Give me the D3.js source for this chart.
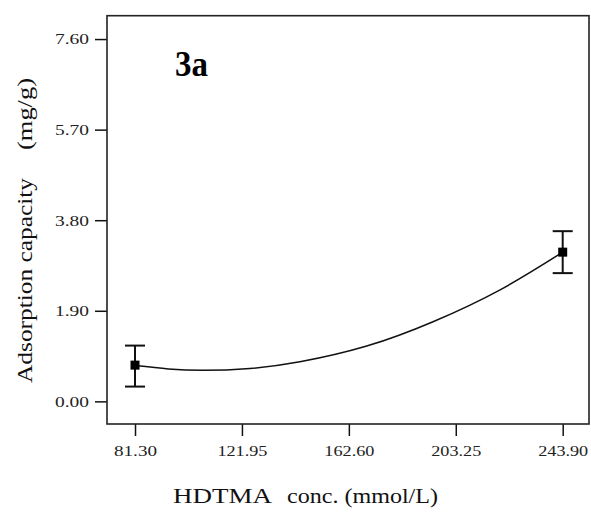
<!DOCTYPE html>
<html><head><meta charset="utf-8">
<script src="https://cdn.jsdelivr.net/npm/d3@7"></script>
<style>html,body{margin:0;padding:0;background:#fff;}svg{display:block;}</style>
</head><body>
<svg id="c" width="591" height="515"></svg>
<script>
// Data
const xTicks = [81.30, 121.95, 162.60, 203.25, 243.90];
const yTicks = [0.00, 1.90, 3.80, 5.70, 7.60];
const pointX = [81.30, 243.90];
const pointY = [0.76, 3.13];
const errLow = [0.31, 2.69];
const errHigh = [1.17, 3.57];
const curveX = [81.30, 94.0, 107.15, 125.0, 144.0, 169.4, 194.6, 220.1, 243.90];
const curveY = [0.75, 0.68, 0.65, 0.69, 0.83, 1.16, 1.67, 2.34, 3.13];
const panelLabel = "3a";
const xTitle = ["HDTMA", "conc. (mmol/L)"];
const yTitle = ["Adsorption capacity", "(mg/g)"];

const svg = d3.select("#c");
const L = 107, R = 589, T = 15.7, B = 424;
const x = d3.scaleLinear().domain([70.65, 253.9]).range([L, R]);
const y = d3.scaleLinear().domain([-0.475, 8.09]).range([B, T]);
const font = "'Liberation Serif','Times New Roman',serif";

// y axis
const ya = svg.append("g").attr("transform", `translate(${L},0)`)
  .call(d3.axisLeft(y).tickValues(yTicks).tickFormat(d3.format(".2f")).tickSize(12).tickPadding(6));
ya.select(".domain").remove();
ya.selectAll(".tick line").attr("stroke", "#111").attr("stroke-width", 1.5);
ya.selectAll(".tick text").attr("font-family", font).attr("font-size", 15).attr("fill", "#222")
  .attr("textLength", 34).attr("lengthAdjust", "spacingAndGlyphs");

// x axis
const xa = svg.append("g").attr("transform", `translate(0,${B})`)
  .call(d3.axisBottom(x).tickValues(xTicks).tickFormat(d3.format(".2f")).tickSize(12).tickPadding(9));
xa.select(".domain").remove();
xa.selectAll(".tick line").attr("stroke", "#111").attr("stroke-width", 1.5);
xa.selectAll(".tick text").attr("font-family", font).attr("font-size", 15).attr("fill", "#222")
  .each(function(d){ const s = d3.format(".2f")(d); d3.select(this).attr("textLength", s.length === 5 ? 43 : 50).attr("lengthAdjust", "spacingAndGlyphs"); });

// frame
svg.append("rect").attr("x", L).attr("y", T).attr("width", R - L).attr("height", B - T)
  .attr("fill", "none").attr("stroke", "#222").attr("stroke-width", 1.6);

// fitted curve
const pts = curveX.map((d, i) => [d, curveY[i]]);
svg.append("path").datum(pts)
  .attr("d", d3.line().x(d => x(d[0])).y(d => y(d[1])).curve(d3.curveNatural))
  .attr("fill", "none").attr("stroke", "#111").attr("stroke-width", 1.5);

// error bars & markers
const g = svg.append("g");
pointX.forEach((px, i) => {
  const cx = x(px);
  g.append("line").attr("x1", cx).attr("x2", cx).attr("y1", y(errLow[i])).attr("y2", y(errHigh[i]))
    .attr("stroke", "#111").attr("stroke-width", 2);
  [errLow[i], errHigh[i]].forEach(v => {
    g.append("line").attr("x1", cx - 10).attr("x2", cx + 10).attr("y1", y(v)).attr("y2", y(v))
      .attr("stroke", "#111").attr("stroke-width", 2);
  });
  g.append("rect").attr("x", cx - 4.5).attr("y", y(pointY[i]) - 4.5).attr("width", 9).attr("height", 9)
    .attr("fill", "#000");
});

// panel label
svg.append("text").attr("x", 175).attr("y", 76).attr("font-family", font).attr("font-weight", "bold")
  .attr("font-size", 35).attr("fill", "#000").attr("textLength", 33).attr("lengthAdjust", "spacingAndGlyphs")
  .text(panelLabel);

// x title
svg.append("text").attr("x", 173).attr("y", 503).attr("font-family", font).attr("font-size", 22)
  .attr("fill", "#111").attr("textLength", 99).attr("lengthAdjust", "spacingAndGlyphs").text(xTitle[0]);
svg.append("text").attr("x", 287).attr("y", 503).attr("font-family", font).attr("font-size", 22)
  .attr("fill", "#111").attr("textLength", 151).attr("lengthAdjust", "spacingAndGlyphs").text(xTitle[1]);

// y title (rotated)
svg.append("text").attr("transform", "translate(32,383) rotate(-90)").attr("font-family", font)
  .attr("font-size", 21).attr("fill", "#111").attr("textLength", 205).attr("lengthAdjust", "spacingAndGlyphs")
  .text(yTitle[0]);
svg.append("text").attr("transform", "translate(32,150) rotate(-90)").attr("font-family", font)
  .attr("font-size", 21).attr("fill", "#111").attr("textLength", 72).attr("lengthAdjust", "spacingAndGlyphs")
  .text(yTitle[1]);
</script>
</body></html>
